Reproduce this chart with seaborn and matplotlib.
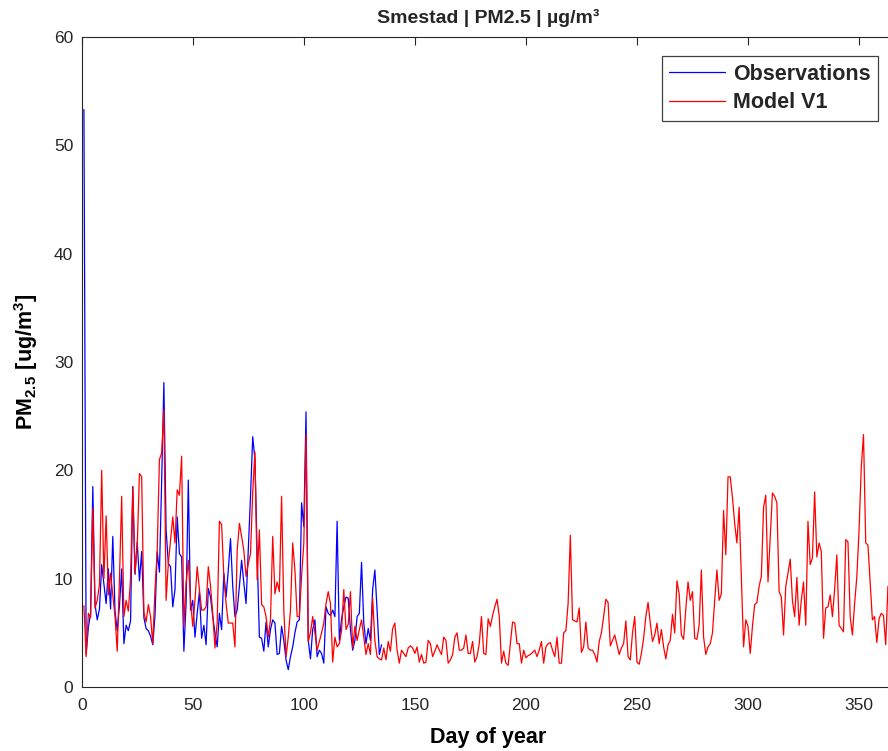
import numpy as np
import pandas as pd
import matplotlib
matplotlib.use("Agg")
import matplotlib.pyplot as plt
import seaborn as sns

# daily PM2.5 at Smestad
obs_pm25 = [
    53.3, 3.0, 5.5, 6.8, 18.5, 7.6, 6.2, 7.2, 11.3, 9.5,
    7.7, 10.9, 7.2, 13.9, 7.0, 5.2, 7.5, 10.9, 4.0, 5.7,
    5.2, 6.1, 18.5, 10.4, 13.4, 9.8, 12.5, 6.4, 5.4, 5.2,
    4.7, 3.9, 6.6, 12.5, 10.6, 19.0, 28.1, 14.5, 11.4, 11.1,
    7.4, 9.0, 15.7, 12.3, 12.0, 3.3, 7.7, 19.1, 7.1, 8.0,
    4.6, 6.8, 8.8, 4.5, 5.7, 3.9, 9.1, 8.3, 6.5, 5.0,
    3.7, 6.8, 5.3, 10.5, 8.3, 10.8, 13.7, 9.3, 6.5, 7.1,
    9.3, 11.7, 9.6, 7.7, 12.6, 17.6, 23.1, 21.0, 12.3, 4.6,
    4.5, 3.3, 6.0, 3.7, 5.3, 6.2, 5.9, 3.0, 3.1, 5.6,
    4.3, 2.5, 1.6, 2.8, 3.7, 5.0, 6.0, 6.2, 17.0, 14.8,
    25.4, 4.3, 2.6, 5.3, 6.2, 2.8, 3.4, 3.1, 2.2, 7.4,
    6.8, 6.6, 7.1, 6.5, 15.3, 4.3, 6.3, 7.4, 8.3, 8.2,
    5.3, 3.4, 4.3, 6.5, 6.8, 11.5, 5.9, 4.0, 5.4, 4.3,
    9.0, 10.8, 7.1, 3.0, 3.9,
]

model_pm25 = [
    7.5, 2.8, 6.8, 6.4, 16.5, 7.3, 8.0, 9.5, 20.0, 10.0,
    15.8, 8.5, 10.5, 8.5, 6.5, 3.3, 10.0, 17.6, 6.5, 8.0,
    7.0, 10.0, 18.5, 10.5, 13.0, 19.7, 19.4, 6.9, 6.0, 7.6,
    6.5, 4.0, 9.0, 12.6, 21.0, 21.6, 25.6, 8.0, 11.4, 13.6,
    15.7, 13.3, 18.2, 17.7, 21.3, 5.6, 9.6, 11.7, 8.0, 5.6,
    8.0, 11.1, 9.0, 7.1, 7.1, 7.4, 11.1, 9.3, 6.8, 3.6,
    5.9, 15.3, 15.0, 10.2, 7.7, 5.9, 5.9, 5.9, 3.7, 12.6,
    15.1, 13.9, 12.6, 10.2, 11.4, 12.3, 18.0, 21.7, 9.9, 14.5,
    7.6, 7.4, 6.5, 4.6, 6.2, 13.9, 8.6, 9.7, 8.8, 17.6,
    7.1, 2.8, 4.6, 7.1, 13.3, 10.8, 6.5, 6.5, 10.2, 13.3,
    23.3, 4.2, 5.0, 6.5, 5.0, 3.4, 4.2, 5.0, 5.9, 7.7,
    8.8, 7.7, 2.3, 4.6, 3.7, 4.0, 5.2, 9.0, 5.3, 5.8,
    8.8, 3.6, 5.6, 4.3, 5.3, 6.2, 4.6, 3.0, 4.0, 3.0,
    8.2, 4.3, 2.8, 2.6, 2.5, 3.6, 2.5, 4.2, 3.3, 5.4,
    5.9, 3.4, 2.2, 3.4, 3.1, 2.8, 3.6, 3.8, 3.6, 3.1,
    3.7, 2.3, 3.0, 2.2, 2.3, 4.3, 4.0, 2.8, 3.3, 3.9,
    3.4, 3.0, 4.6, 4.3, 2.2, 2.5, 3.0, 4.6, 5.0, 3.4,
    3.4, 3.6, 4.8, 3.1, 3.1, 4.2, 2.3, 2.8, 4.0, 6.5,
    3.1, 3.0, 6.3, 5.6, 6.6, 7.4, 8.1, 6.5, 2.2, 3.3,
    2.2, 2.0, 4.0, 6.0, 5.9, 4.0, 4.0, 2.2, 3.4, 2.7,
    2.9, 3.0, 3.2, 3.4, 2.8, 3.4, 4.2, 2.2, 3.7, 4.0,
    4.1, 3.4, 2.8, 4.6, 2.2, 2.2, 5.0, 5.2, 7.7, 14.0,
    6.2, 6.1, 6.0, 7.3, 3.2, 3.7, 6.0, 3.6, 3.4, 3.4,
    3.0, 2.3, 4.2, 5.0, 6.5, 8.1, 7.8, 3.8, 4.3, 4.8,
    3.9, 3.0, 3.6, 4.0, 6.1, 2.8, 2.5, 5.0, 6.5, 2.3,
    2.1, 3.1, 4.5, 6.5, 7.8, 5.9, 4.2, 4.8, 5.9, 4.0,
    5.3, 3.7, 2.6, 3.9, 4.3, 6.7, 5.0, 9.8, 8.6, 4.8,
    4.4, 7.2, 9.7, 8.0, 8.8, 4.5, 4.4, 5.7, 10.8, 4.6,
    3.0, 3.7, 4.0, 5.0, 8.0, 10.8, 8.0, 8.6, 16.3, 12.2,
    19.4, 19.4, 17.5, 15.1, 13.3, 16.6, 10.2, 3.7, 6.2, 5.6,
    3.1, 5.6, 7.6, 7.8, 9.3, 10.2, 16.6, 17.7, 9.7, 13.9,
    17.9, 17.6, 17.0, 8.8, 8.3, 4.8, 9.3, 10.5, 11.8, 8.0,
    6.5, 10.1, 5.7, 8.0, 9.7, 5.7, 15.3, 11.3, 11.9, 18.0,
    12.0, 13.3, 12.5, 4.5, 7.3, 7.4, 8.5, 6.5, 9.0, 12.2,
    5.7, 5.4, 5.1, 13.6, 13.4, 6.5, 4.8, 7.7, 10.2, 14.5,
    20.3, 23.3, 13.3, 13.1, 9.6, 6.2, 6.5, 4.1, 6.3, 6.8,
    6.6, 3.9, 9.3, 3.7, 4.0,
]

x_ticks = [0, 50, 100, 150, 200, 250, 300, 350]
y_ticks = [0, 10, 20, 30, 40, 50, 60]

obs = pd.DataFrame({"day": np.arange(1, len(obs_pm25) + 1), "pm25": obs_pm25})
model = pd.DataFrame({"day": np.arange(1, len(model_pm25) + 1), "pm25": model_pm25})

sns.set_theme(style="white")
plt.rcParams["font.family"] = ["Liberation Sans", "DejaVu Sans"]
plt.rcParams["mathtext.fontset"] = "custom"
plt.rcParams["mathtext.rm"] = "Liberation Sans"
plt.rcParams["mathtext.bf"] = "Liberation Sans:bold"

W, H = 888, 751
fig = plt.figure(figsize=(W / 100, H / 100), dpi=100)
ax = fig.add_axes([81.7 / W, (H - 687) / H, (894.6 - 81.7) / W, 650 / H])

sns.lineplot(data=obs, x="day", y="pm25", ax=ax, color="#0000FF", lw=0.9,
             label="Observations", estimator=None)
sns.lineplot(data=model, x="day", y="pm25", ax=ax, color="#FF0000", lw=0.9,
             label="Model V1", estimator=None)

ax.set_xlim(0, 366)
ax.set_ylim(0, 60)
ax.set_xticks(x_ticks)
ax.set_yticks(y_ticks)
ax.tick_params(direction="in", length=5.8, width=0.8, colors="#262626",
               labelsize=12.5, top=True, right=False)
ax.tick_params(axis="x", pad=8)
ax.tick_params(axis="y", pad=6)
for s in ax.spines.values():
    s.set_color("#262626")
    s.set_linewidth(0.8)

ax.set_xlabel("Day of year", fontsize=15.5, fontweight="bold", color="black", labelpad=10)
ax.set_ylabel(r"$\mathbf{PM_{2.5}\ [ug/m^3]}$", fontsize=15.5, color="black", labelpad=10)
fig.text((81.7 + 894.6) / 2 / W, 1 - 18 / H, "Smestad | PM2.5 | µg/m³",
         ha="center", va="center", fontsize=14, fontweight="bold")

leg = ax.legend(loc="upper right", bbox_to_anchor=(878 / W, 1 - 56 / H),
                bbox_transform=fig.transFigure, borderaxespad=0,
                fancybox=False, framealpha=1, edgecolor="#404040",
                handlelength=2.6, handletextpad=0.35, labelspacing=0.35,
                borderpad=0.35, prop={"weight": "bold", "size": 15.5})
leg.get_frame().set_linewidth(0.9)

fig.savefig("out.png", dpi=100)
